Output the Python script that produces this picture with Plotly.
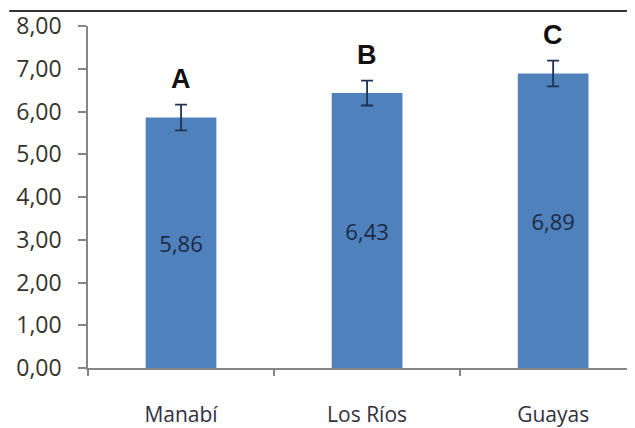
import plotly.graph_objects as go

categories = ["Manabí", "Los Ríos", "Guayas"]
values = [5.86, 6.43, 6.89]
errors = [0.30, 0.29, 0.30]
letters = ["A", "B", "C"]
y_ticks = [0, 1, 2, 3, 4, 5, 6, 7, 8]

fig = go.Figure()
fig.add_trace(go.Bar(
    x=categories, y=values,
    marker=dict(color="#4F81BD", line=dict(width=0)),
    width=0.38,
    error_y=dict(type="data", array=errors, visible=True,
                 color="#1F3350", thickness=1.8, width=6),
    texttemplate="%{y:.2f}", textposition="inside",
    insidetextanchor="middle",
    textfont=dict(family="Open Sans", size=22, color="#1C2A44"),
    cliponaxis=False,
))

for c, v, e, l in zip(categories, values, errors, letters):
    fig.add_annotation(x=c, y=v + e, text=f"<b>{l}</b>", showarrow=False,
                       yanchor="bottom", yshift=9,
                       font=dict(family="Liberation Sans", size=27,
                                 color="#111111"))

fig.add_shape(type="line", xref="paper", yref="paper",
              x0=-0.144, x1=1.0, y0=1.044, y1=1.044,
              line=dict(color="#333333", width=2))

# page body has an 8px margin; the figure is sized to fit the window
fig.update_layout(
    width=627, height=420,
    margin=dict(l=80, r=0, t=18, b=60),
    paper_bgcolor="white", plot_bgcolor="white",
    separators=",.",
    showlegend=False,
)
fig.update_xaxes(
    type="category", range=[-0.5, 2.44], automargin=False,
    showline=True, linecolor="#868686", linewidth=1.5,
    ticks="outside", tickson="boundaries", ticklen=6, tickcolor="#868686",
    tickwidth=1.5,
    tickfont=dict(family="Open Sans", size=21, color="#33303F"),
    ticklabelstandoff=27,
    showgrid=False,
)
fig.update_yaxes(
    range=[0, 8], tickvals=y_ticks, tickformat=".2f", automargin=False,
    showline=True, linecolor="#868686", linewidth=1.5,
    ticks="outside", ticklen=8, tickcolor="#868686", tickwidth=1.5,
    tickfont=dict(family="Open Sans", size=23, color="#35332A"),
    ticklabelstandoff=12,
    showgrid=False, zeroline=False,
)

fig.write_html("out.html")
